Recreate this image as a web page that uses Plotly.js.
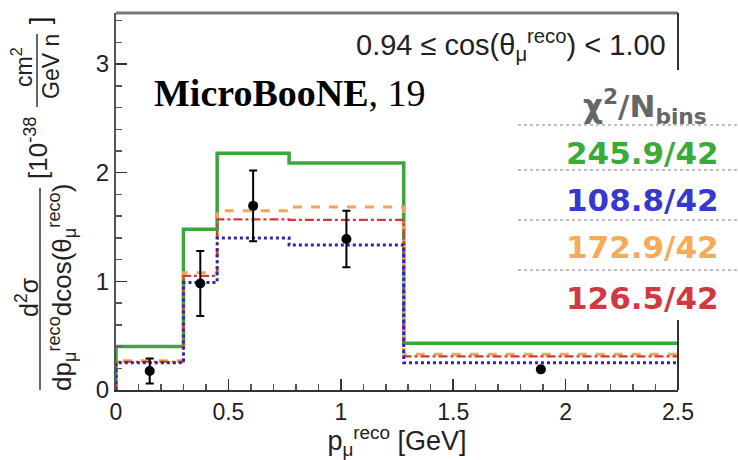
<!DOCTYPE html>
<html><head><meta charset="utf-8">
<script src="https://cdn.plot.ly/plotly-3.0.1.min.js"></script>
<style>html,body{margin:0;padding:0;background:#fff}#c{width:738px;height:460px}</style>
</head><body><div id="c"></div>
<script>
// ---- data ----
const binEdges = [0, 0.3, 0.45, 0.77, 1.28, 2.5];
const greenVals  = [0.40, 1.48, 2.18, 2.09, 0.43];
const blueVals   = [0.25, 0.99, 1.40, 1.335, 0.25];
const orangeVals = [0.27, 1.08, 1.65, 1.685, 0.33];
const redVals    = [0.26, 1.05, 1.57, 1.565, 0.31];
const dataX   = [0.15, 0.375, 0.61, 1.025, 1.89];
const dataY   = [0.175, 0.98, 1.695, 1.39, 0.19];
const dataErr = [0.115, 0.30, 0.325, 0.26, 0.02];
const chiLabels = ['245.9/42', '108.8/42', '172.9/42', '126.5/42'];
const yTicks = [0, 1, 2, 3];
const xTicks = [0, 0.5, 1, 1.5, 2, 2.5];
const xTickText = ['0', '0.5', '1', '1.5', '2', '2.5'];

// ---- geometry helpers (pixel -> paper) ----
const L = 116, R = 678, T = 13, B = 390, W = 738, H = 460;
const px = x => (x - L) / (R - L);
const py = y => (B - y) / (B - T);

const colGreen = '#3da53d', colBlue = '#2b2ba8', colOrange = '#f4a452', colRed = '#d23a3a';
const txtGreen = '#3aab3a', txtBlue = '#3838cc', txtOrange = '#f7aa58', txtRed = '#d13842';

function stepTrace(vals, color, dash, width) {
  const x = [binEdges[0]].concat(binEdges);
  const y = [0].concat(vals, [vals[vals.length - 1]]);
  return {x, y, type: 'scatter', mode: 'lines', line: {shape: 'hv', color, dash, width}, hoverinfo: 'skip', showlegend: false};
}

const traces = [
  stepTrace(greenVals, colGreen, 'solid', 3.5),
  stepTrace(orangeVals, colOrange, 'dash', 3),
  stepTrace(redVals, colRed, 'dashdot', 2.2),
  stepTrace(blueVals, colBlue, 'dot', 3),
  {x: dataX, y: dataY, type: 'scatter', mode: 'markers',
   marker: {color: '#000', size: 10},
   error_y: {type: 'data', array: dataErr, visible: true, color: '#000', thickness: 2, width: 4},
   showlegend: false}
];

const fontSans = 'Liberation Sans, Arial, sans-serif';
const fontBold = 'DejaVu Sans, Verdana, sans-serif';

const annotations = [
  // y-axis title pieces (rotated)
  {x: px(27), y: py(297), text: 'd<sup>2</sup>σ', textangle: -90, font: {size: 25}},
  {x: px(62), y: py(288), text: 'dp<sub>μ</sub><sup>reco</sup>dcos(θ<sub>μ</sub><sup>reco</sup>)', textangle: -90, font: {size: 26}},
  {x: px(36), y: py(148), text: '[10<sup>-38</sup>', textangle: -90, font: {size: 26}},
  {x: px(22), y: py(67), text: 'cm<sup>2</sup>', textangle: -90, font: {size: 23}},
  {x: px(51), y: py(67), text: 'GeV n', textangle: -90, font: {size: 23}},
  {x: px(40), y: py(24), text: ' ]', textangle: -90, font: {size: 28, color: '#111'}},
  // cut label
  {x: px(668), y: py(45), xanchor: 'right', textangle: 0,
   text: '0.94 ≤ cos(θ<sub>μ</sub><sup>reco</sup>) < 1.00', font: {size: 29, color: '#222'}},
  // MicroBooNE label
  {x: px(152), y: py(93), xanchor: 'left', textangle: 0,
   text: '<b>MicroBooNE</b>, 19', font: {size: 38, family: 'Liberation Serif, Times New Roman, serif', color: '#000'}},
  // chi2 header
  {x: px(645), y: py(106), text: '<b>χ<sup>2</sup>/N<sub>bins</sub></b>', textangle: 0,
   font: {size: 31, family: fontBold, color: '#666'}},
];
const chiY = [153, 200, 247, 298];
const chiCols = [txtGreen, txtBlue, txtOrange, txtRed];
chiLabels.forEach((t, i) => annotations.push({
  x: px(721), y: py(chiY[i]), xanchor: 'right', textangle: 0,
  text: '<b>' + t + '</b>', font: {size: 31, family: fontBold, color: chiCols[i]}
}));
annotations.forEach(a => {
  a.xref = 'paper'; a.yref = 'paper'; a.showarrow = false;
  if (!a.xanchor) a.xanchor = 'center';
  a.yanchor = 'middle';
  a.font = Object.assign({family: fontSans, color: '#222'}, a.font);
});

const shapes = [
  // top frame
  {type: 'line', x0: px(L), x1: px(R), y0: 1, y1: 1, line: {color: '#777', width: 3}},
  // right frame segments
  {type: 'line', x0: 1, x1: 1, y0: 1, y1: py(70), line: {color: '#333', width: 2}},
  {type: 'line', x0: 1, x1: 1, y0: py(320), y1: 0, line: {color: '#333', width: 2}},
  // y-title fraction bars
  {type: 'line', x0: px(40), x1: px(40), y0: py(188), y1: py(390), line: {color: '#333', width: 1.5}},
  {type: 'line', x0: px(37), x1: px(37), y0: py(34), y1: py(107), line: {color: '#333', width: 1.5}},
];
[125, 170, 220, 270].forEach(yy => shapes.push({type: 'line', x0: px(518), x1: px(738), y0: py(yy), y1: py(yy),
  line: {color: '#aaa', width: 1.5, dash: 'dot'}}));
shapes.forEach(s => { s.xref = 'paper'; s.yref = 'paper'; s.layer = 'above'; });

const layout = {
  width: W, height: H,
  margin: {l: L, r: W - R, t: T, b: H - B, pad: 0},
  paper_bgcolor: '#fff', plot_bgcolor: 'rgba(0,0,0,0)',
  showlegend: false,
  xaxis: {range: [0, 2.5], tickvals: xTicks, ticktext: xTickText, ticks: 'inside', ticklen: 11, tickwidth: 1.5, tickcolor: '#333',
          minor: {dtick: 0.1, tick0: 0, ticks: 'inside', ticklen: 6, tickcolor: '#555'},
          showline: true, linecolor: '#333', linewidth: 2, showgrid: false, zeroline: false,
          tickfont: {family: fontSans, size: 23, color: '#222'},
          title: {text: 'p<sub>μ</sub><sup>reco</sup> [GeV]', font: {family: fontSans, size: 27, color: '#222'}, standoff: 2}},
  yaxis: {range: [0, 3.47], tickvals: yTicks, ticks: 'inside', ticklen: 11, tickwidth: 1.5, tickcolor: '#333',
          minor: {dtick: 0.2, tick0: 0, ticks: 'inside', ticklen: 6, tickcolor: '#555'},
          showline: true, linecolor: '#555', linewidth: 2, showgrid: false, zeroline: false,
          tickfont: {family: fontSans, size: 24, color: '#222'}},
  annotations, shapes
};

Plotly.newPlot('c', traces, layout, {staticPlot: true, displayModeBar: false});
</script></body></html>
